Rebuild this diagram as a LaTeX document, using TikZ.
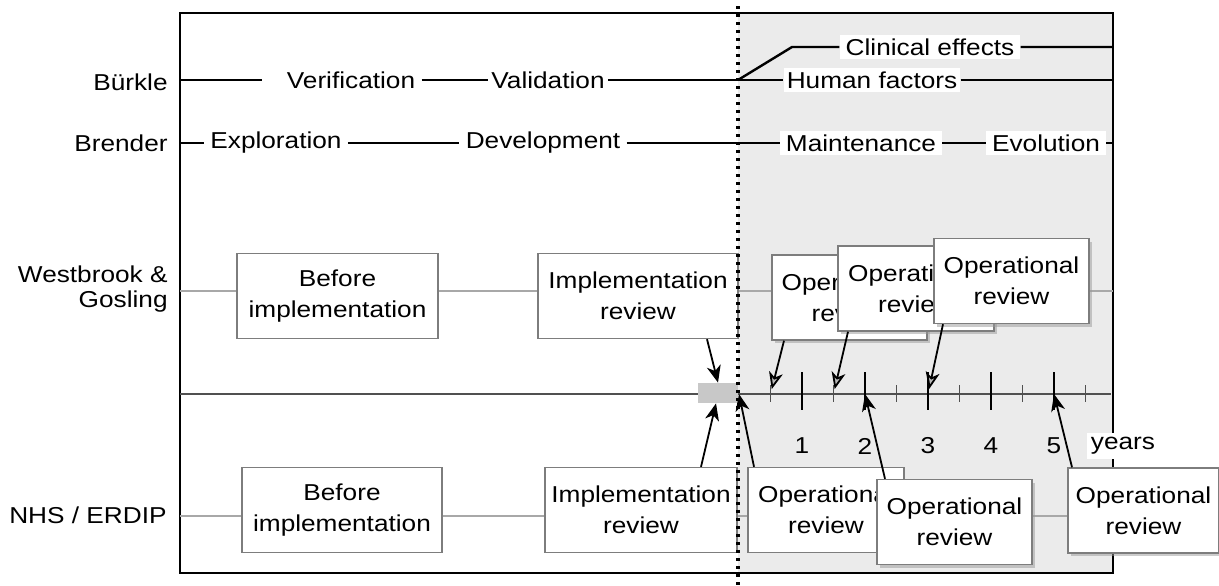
\documentclass[tikz,border=0pt]{standalone}
\usepackage{fontspec}
\setmainfont{Liberation Sans}[FakeStretch=1.14]
\usepackage{tikz}
\usetikzlibrary{arrows.meta,shadows}

\definecolor{aftergray}{RGB}{235,235,235}
\definecolor{boxline}{RGB}{125,125,125}
\definecolor{rowgray}{RGB}{168,168,168}
\definecolor{axisgray}{RGB}{80,80,80}
\definecolor{bargray}{RGB}{200,200,200}

\begin{document}
\begin{tikzpicture}[x=0.5pt,y=0.5pt,yscale=-1,
    txt/.style={font=\fontsize{11.5}{14}\selectfont, inner sep=0pt},
    phase/.style={txt, fill=white, inner xsep=3pt, inner ysep=2pt},
    phaseline/.style={line width=1.2pt},
    revline/.style={draw=rowgray, line width=1pt},
    revbox/.style={txt, draw=boxline, fill=white, line width=0.7pt, align=center,
        font=\fontsize{11.5}{15.5}\selectfont, minimum width=#1, minimum height=42.5pt},
    shbox/.style={revbox=#1, drop shadow={shadow xshift=1.5pt, shadow yshift=-1.5pt, fill=black!40}},
    axisline/.style={draw=axisgray, line width=1.4pt},
    ticklong/.style={line width=1pt},
    tickshort/.style={draw=axisgray, line width=0.7pt},
    arr/.style={-{Stealth[length=8.5pt, width=7pt, inset=2.5pt]}, line width=0.9pt},
    garr/.style={-{Stealth[length=8.5pt, width=7pt, inset=2.5pt, fill=gray!55]}, line width=0.9pt, shorten >=2.5pt},
    ]
    \useasboundingbox (0,0) rectangle (1219,585);

    %Shape: Rectangle [shaded part, after implementation]
    \fill[aftergray] (738,13) rectangle (1113,573);
    %Shape: Rectangle [frame]
    \draw[line width=1.4pt] (180,13) rectangle (1113,573);

    % ends of the rows
    \coordinate (bkL) at (180,80);
    \coordinate (bkR) at (1113,80);
    \coordinate (split) at (738,80);
    \coordinate (bend) at (792,47);
    \coordinate (clR) at (1113,47);
    \coordinate (brL) at (180,143);
    \coordinate (brR) at (1113,143);
    \coordinate (wbL) at (180,291);
    \coordinate (wbR) at (1113,291);
    \coordinate (nhL) at (180,516);
    \coordinate (nhR) at (1113,516);
    \coordinate (axL) at (180,394);
    \coordinate (axR) at (1111,394);
    \coordinate (dotTop) at (738,6);
    \coordinate (dotBot) at (738,585);

    % Text Node
    \node[txt, anchor=east] (burkle) at (168,82) {Bürkle};
    % Text Node
    \node[txt, anchor=east] (brender) at (168,143) {Brender};
    % Text Node
    \node[txt, anchor=east, align=right, font=\fontsize{11.5}{12.5}\selectfont] (westbrook) at (168,289) {Westbrook \&\hspace{3pt}\\Gosling};
    % Text Node
    \node[txt, anchor=east] (nhs) at (167,515) {NHS / ERDIP};

    % Text Node
    \node[phase] (verif) at (351,80) {Verification};
    \node[phase, inner xsep=1.5pt] (valid) at (548,80) {Validation};
    \node[phase, inner xsep=1.5pt] (human) at (872,80) {Human factors};
    \node[phase] (clinical) at (930,47) {Clinical effects};
    % Text Node
    \node[phase] (explo) at (276,143) {Exploration};
    \node[phase] (devel) at (543,143) {Development};
    \node[phase] (maint) at (861,143) {Maintenance};
    \node[phase] (evol) at (1046,143) {Evolution};

    %Straight Lines
    \draw[phaseline] (bkL) -- ([xshift=-9pt]verif.west);
    \draw[phaseline] (verif) -- (valid) -- (split) -- (human) -- (bkR);
    \draw[phaseline] (split) -- (bend) -- (clinical) -- (clR);
    \draw[phaseline] (brL) -- (explo) -- (devel) -- (maint) -- (evol) -- (brR);

    %Straight Lines
    \draw[revline] (wbL) -- (wbR);
    \draw[revline] (nhL) -- (nhR);

    %Straight Lines [time axis]
    \draw[axisline] (axL) -- (axR);
    \coordinate (t0) at (739,394);
    \foreach \y in {1,...,5} {
        \draw[ticklong] (739+63*\y,372) -- (739+63*\y,410);
        \coordinate (t\y) at (739+63*\y,394);
        \node[txt] (yr\y) at (739+63*\y,446) {\y};
    }
    \foreach \h in {1,...,6} {
        \draw[tickshort] (707.5+63*\h,385) -- (707.5+63*\h,402);
        \coordinate (h\h) at (707.5+63*\h,394);
    }
    %Shape: Rectangle
    \node[fill=bargray, minimum width=20pt, minimum height=10pt, inner sep=0pt] (implbar) at (718,393) {};

    % Text Node
    \node[txt, fill=white, inner sep=2pt] (years) at (1123,446) {years};

    %Shape: Rectangle [Westbrook & Gosling]
    \node[revbox=100.5pt] (wbBefore) at (337.5,296) {Before\\implementation};
    \node[revbox=100pt] (wbImpl) at (638,296) {Implementation\\review};
    \node[shbox=77.5pt] (wbOpA) at (849.5,297.5) {Operational\\review};
    \node[shbox=78pt] (wbOpB) at (916,288.5) {Operational\\review};
    \node[shbox=77.5pt] (wbOpC) at (1011.5,281) {Operational\\review};

    %Shape: Rectangle [NHS / ERDIP]
    \node[revbox=100pt] (nhBefore) at (342,510) {Before\\implementation};
    \node[revbox=96pt] (nhImpl) at (641,510) {Implementation\\review};
    \node[revbox=78pt] (nhOp1) at (826,510) {Operational\\review};
    \node[shbox=77.5pt] (nhOp2) at (954.5,522) {Operational\\review};
    \node[shbox=75.5pt] (nhOp3) at (1143.5,510.5) {Operational\\review};

    %Straight Lines [dotted divider]
    \draw[line width=1.7pt, dash pattern=on 1.7pt off 2.3pt] (dotTop) -- (dotBot);

    %Straight Lines [arrows]
    \draw[garr] ([xshift=-32.75pt]wbOpA.south) -- (h1);
    \draw[garr] ([xshift=-34pt]wbOpB.south) -- (h2);
    \draw[garr] ([xshift=-34.25pt]wbOpC.south) -- (t3);
    \draw[arr] ([xshift=34.5pt]wbImpl.south) -- (implbar.north);
    \draw[arr] ([xshift=30pt]nhImpl.north) -- ([xshift=-1pt]implbar.south);
    \draw[arr] ([xshift=-36pt]nhOp1.north) -- (t0);
    \draw[arr] ([xshift=-34.75pt]nhOp2.north) -- (t2);
    \draw[arr] ([xshift=-35.75pt]nhOp3.north) -- (t5);

\end{tikzpicture}
\end{document}
